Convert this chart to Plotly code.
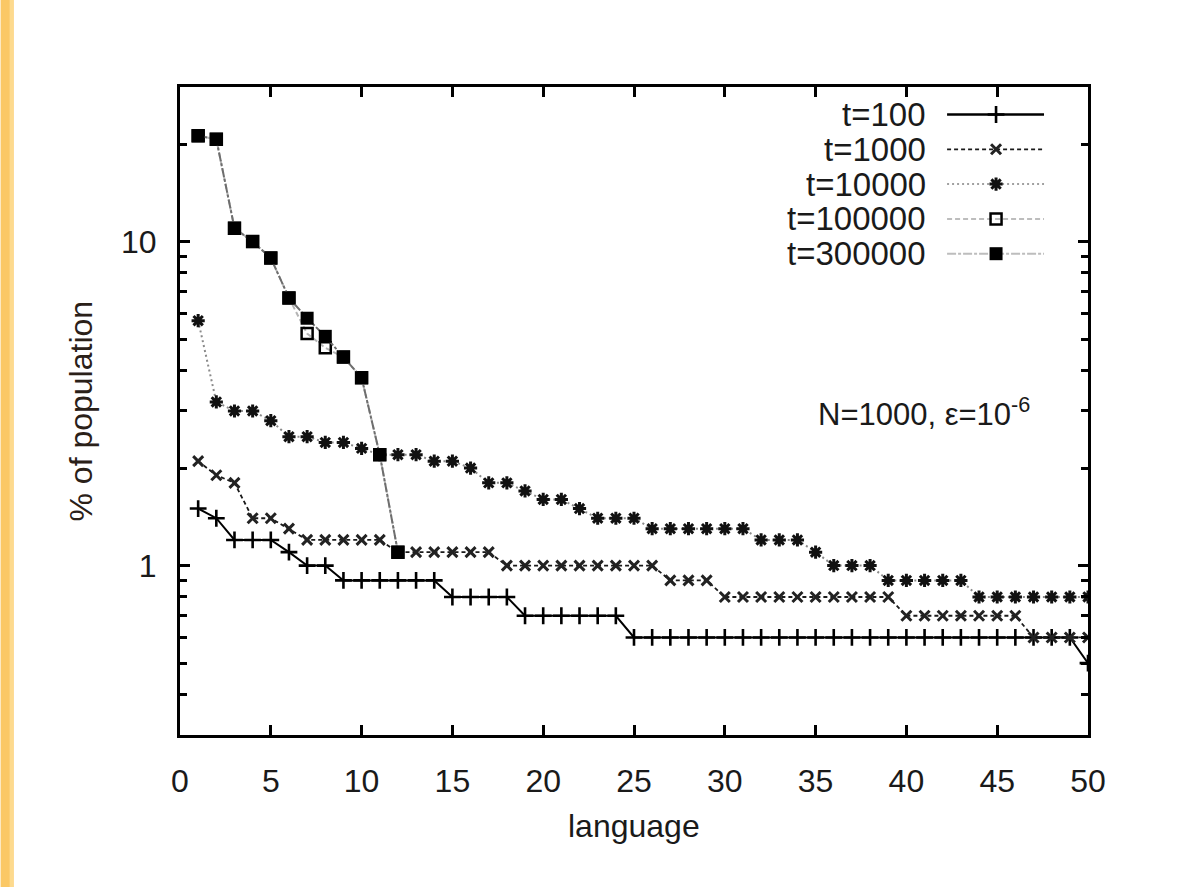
import plotly.graph_objects as go

# ---- data: share of population (%) per language rank ----
language = list(range(1, 51))

t100 = [1.5, 1.4, 1.2, 1.2, 1.2, 1.1, 1.0, 1.0,
        0.9, 0.9, 0.9, 0.9, 0.9, 0.9,
        0.8, 0.8, 0.8, 0.8,
        0.7, 0.7, 0.7, 0.7, 0.7, 0.7,
        0.6, 0.6, 0.6, 0.6, 0.6, 0.6, 0.6, 0.6, 0.6, 0.6,
        0.6, 0.6, 0.6, 0.6, 0.6, 0.6, 0.6, 0.6, 0.6, 0.6,
        0.6, 0.6, 0.6, 0.6, 0.6, 0.5]

t1000 = [2.1, 1.9, 1.8, 1.4, 1.4, 1.3,
         1.2, 1.2, 1.2, 1.2, 1.2,
         1.1, 1.1, 1.1, 1.1, 1.1, 1.1,
         1.0, 1.0, 1.0, 1.0, 1.0, 1.0, 1.0, 1.0, 1.0,
         0.9, 0.9, 0.9,
         0.8, 0.8, 0.8, 0.8, 0.8, 0.8, 0.8, 0.8, 0.8, 0.8,
         0.7, 0.7, 0.7, 0.7, 0.7, 0.7, 0.7,
         0.6, 0.6, 0.6, 0.6]

t10000 = [5.7, 3.2, 3.0, 3.0, 2.8, 2.5, 2.5, 2.4, 2.4, 2.3,
          2.2, 2.2, 2.2, 2.1, 2.1, 2.0, 1.8, 1.8, 1.7, 1.6,
          1.6, 1.5, 1.4, 1.4, 1.4,
          1.3, 1.3, 1.3, 1.3, 1.3, 1.3,
          1.2, 1.2, 1.2, 1.1,
          1.0, 1.0, 1.0,
          0.9, 0.9, 0.9, 0.9, 0.9,
          0.8, 0.8, 0.8, 0.8, 0.8, 0.8, 0.8]

t100000 = [21.2, 20.7, 11.0, 10.0, 8.9, 6.7, 5.2, 4.7, 4.4, 3.8, 2.2, 1.1]
t300000 = [21.2, 20.7, 11.0, 10.0, 8.9, 6.7, 5.8, 5.1, 4.4, 3.8, 2.2, 1.1]

series_names = ["t=100", "t=1000", "t=10000", "t=100000", "t=300000"]
series_values = [t100, t1000, t10000, t100000, t300000]

x_ticks = [0, 5, 10, 15, 20, 25, 30, 35, 40, 45, 50]
y_major = [1, 10]
y_minor = [0.3, 0.4, 0.5, 0.6, 0.7, 0.8, 0.9, 2, 3, 4, 5, 6, 7, 8, 9, 20, 30]

# ---- styles ----
FONT = "Liberation Sans, Arial, sans-serif"
TXT = "#1a1a1a"
W, H = 1188, 887
ML, MR, MT, MB = 179.5, 100, 87, 152
PW, PH = W - ML - MR, H - MT - MB

styles = [
    dict(line=dict(color="#000000", width=2, dash="solid"),
         marker=dict(symbol="cross-thin", size=12, line=dict(color="#000000", width=2.6))),
    dict(line=dict(color="#1a1a1a", width=1.8, dash="4px,3px"),
         marker=dict(symbol="x-thin", size=10, line=dict(color="#222222", width=3))),
    dict(line=dict(color="#8a8a8a", width=2, dash="2px,3px"),
         marker=dict(symbol="asterisk", size=11, line=dict(color="#111111", width=3))),
    dict(line=dict(color="#b5b5b5", width=2, dash="5px,3px"),
         marker=dict(symbol="square-open", size=11, color="#000000",
                     line=dict(color="#000000", width=2.5))),
    dict(line=dict(color="#6e6e6e", width=2, dash="9px,2px,3px,2px"),
         marker=dict(symbol="square", size=13, color="#000000",
                     line=dict(color="#000000", width=0))),
]
legend_line_colors = ["#000000", "#1a1a1a", "#a0a0a0", "#bdbdbd", "#bdbdbd"]

fig = go.Figure()

# curves on the log-scale axes
for name, vals, st in zip(series_names, series_values, styles):
    fig.add_trace(go.Scatter(
        x=language[:len(vals)], y=vals, mode="lines+markers", name=name,
        line=st["line"], marker=st["marker"], showlegend=False,
        xaxis="x", yaxis="y"))

# gnuplot-style key: right-aligned labels with line samples to the right
KEY_TEXT_RIGHT = 928 - ML
KEY_X0, KEY_X1, KEY_XM = 947 - ML, 1044 - ML, 996 - ML
KEY_ROW0, KEY_DY = H - MB - 114.5, 34.8
for i, (name, st) in enumerate(zip(series_names, styles)):
    yrow = KEY_ROW0 - i * KEY_DY
    ln = dict(st["line"])
    ln["color"] = legend_line_colors[i]
    if i == 0:
        ln["width"] = 2.5
    fig.add_trace(go.Scatter(
        x=[KEY_X0, KEY_X1], y=[yrow, yrow], mode="lines", line=ln,
        showlegend=False, hoverinfo="skip", xaxis="x2", yaxis="y2"))
    fig.add_trace(go.Scatter(
        x=[KEY_XM], y=[yrow], mode="markers", marker=st["marker"],
        showlegend=False, hoverinfo="skip", xaxis="x2", yaxis="y2"))
    fig.add_annotation(
        x=KEY_TEXT_RIGHT, y=yrow, xref="x2", yref="y2", text=name,
        showarrow=False, xanchor="right", yanchor="middle",
        font=dict(family=FONT, size=33, color=TXT))

# parameter label
fig.add_annotation(
    x=1032 - ML, y=H - MB - 412, xref="x2", yref="y2",
    text="N=1000, ε=10<sup>-6</sup>", showarrow=False,
    xanchor="right", yanchor="middle",
    font=dict(family=FONT, size=31, color=TXT))

# axis titles
fig.add_annotation(
    x=0.5, y=0, xref="paper", yref="paper", yshift=-91, text="language",
    showarrow=False, xanchor="center", yanchor="middle",
    font=dict(family=FONT, size=32, color=TXT))
fig.add_annotation(
    x=0, y=0.5, xref="paper", yref="paper", xshift=-99.5, text="% of population",
    textangle=-90, showarrow=False, xanchor="center", yanchor="middle",
    font=dict(family=FONT, size=32, color="#2a2018"))

# slide border tint
shapes = [
    dict(type="rect", xref="paper", yref="paper",
         x0=-ML / PW, x1=(W - ML) / PW, y0=(H - MB) / PH, y1=(H - MB) / PH + 12 / PH,
         fillcolor="#FFE3A6", line=dict(width=0), layer="below"),
    dict(type="rect", xref="paper", yref="paper",
         x0=-ML / PW, x1=(W - ML) / PW, y0=(H - MB) / PH + 5 / PH, y1=(H - MB) / PH + 12 / PH,
         fillcolor="#FFD98A", line=dict(width=0), layer="below"),
    dict(type="rect", xref="paper", yref="paper",
         x0=-ML / PW, x1=(-ML + 13) / PW, y0=-MB / PH, y1=(H - MB) / PH,
         fillcolor="#FBC865", line=dict(width=0), layer="below"),
    dict(type="rect", xref="paper", yref="paper",
         x0=(-ML + 9) / PW, x1=(-ML + 13) / PW, y0=-MB / PH, y1=(H - MB) / PH,
         fillcolor="#FDDA8E", line=dict(width=0), layer="below"),
]

axis_common = dict(showgrid=False, zeroline=False, showline=True, linecolor="#000000",
                   linewidth=3, mirror="ticks", ticks="inside", tickwidth=2.6,
                   tickcolor="#000000", ticklen=10,
                   tickfont=dict(family=FONT, size=32, color=TXT))

fig.update_layout(
    width=W, height=H,
    margin=dict(l=ML, r=MR, t=MT, b=MB, autoexpand=False),
    paper_bgcolor="#ffffff", plot_bgcolor="#ffffff",
    showlegend=False,
    shapes=shapes,
    xaxis=dict(range=[0, 50], tickmode="array", tickvals=x_ticks,
               ticktext=[str(v) for v in x_ticks], ticklabelstandoff=16,
               **axis_common),
    yaxis=dict(type="log", range=[-0.5229, 1.4771], tickmode="array",
               tickvals=y_major, ticktext=[str(v) for v in y_major],
               ticklabelstandoff=14,
               minor=dict(tickmode="array", tickvals=y_minor, ticks="inside",
                          ticklen=7, tickwidth=2.6, tickcolor="#000000"),
               **axis_common),
    xaxis2=dict(overlaying="x", range=[0, PW], visible=False, fixedrange=True),
    yaxis2=dict(overlaying="y", range=[0, PH], visible=False, fixedrange=True),
)

fig.write_html("out.html")
